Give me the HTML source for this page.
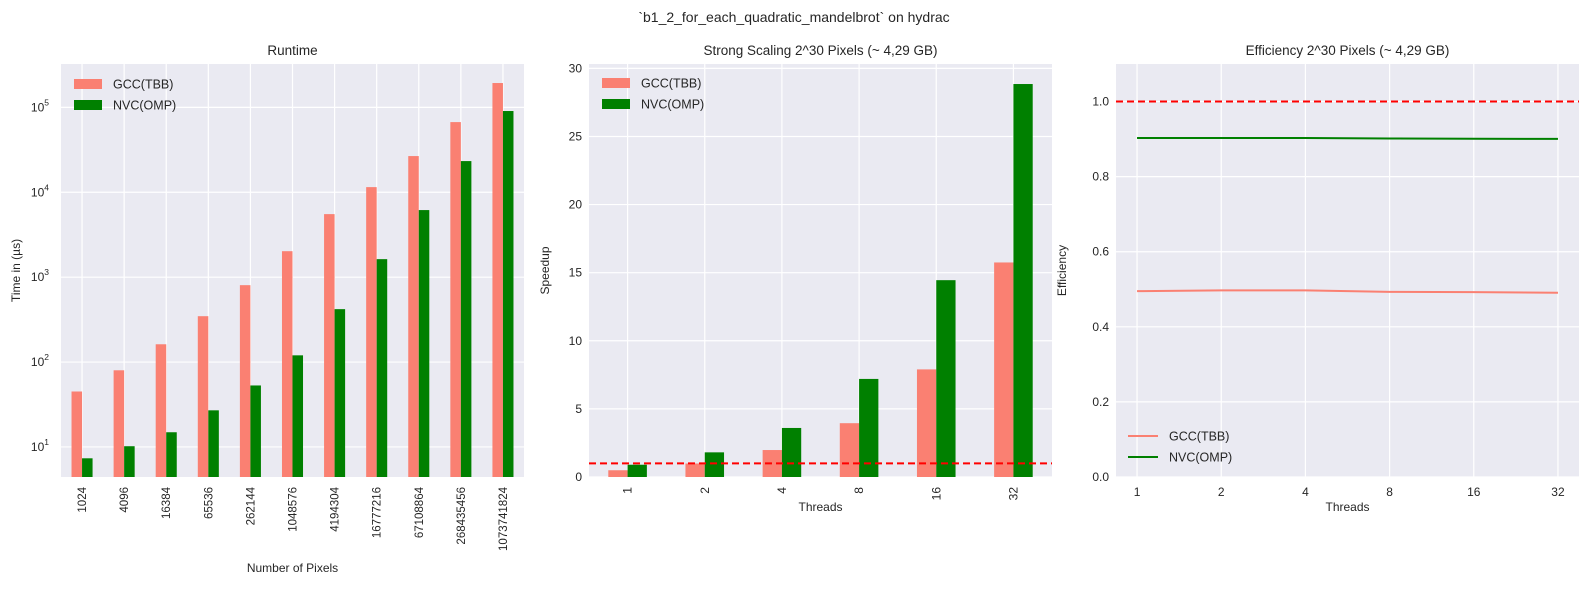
<!DOCTYPE html>
<html><head><meta charset="utf-8"><style>
body{margin:0;background:#fff;}
svg{display:block;font-family:"Liberation Sans",Arial,sans-serif;}
</style></head><body>
<svg id="fig" width="1589" height="593" viewBox="0 0 1589 593" xmlns="http://www.w3.org/2000/svg">
<text x="794" y="22" text-anchor="middle" font-size="14" fill="#262626">`b1_2_for_each_quadratic_mandelbrot` on hydrac</text>
</svg>
<script>
const pixelCats = ["1024","4096","16384","65536","262144","1048576","4194304","16777216","67108864","268435456","1073741824"];
const runtimeGcc = [45,80,162,347,805,2023,5530,11500,26700,67100,193600];
const runtimeNvc = [7.35,10.2,14.9,27,53,120,420,1630,6170,23300,90600];
const threadCats = ["1","2","4","8","16","32"];
const speedupGcc = [0.495,0.99,1.98,3.95,7.9,15.75];
const speedupNvc = [0.9,1.81,3.6,7.2,14.45,28.85];
const effGcc = [0.495,0.497,0.497,0.493,0.4925,0.4907];
const effNvc = [0.903,0.903,0.903,0.9015,0.901,0.9005];
const speedTicks = [0,5,10,15,20,25,30];
const effTicks = [0.0,0.2,0.4,0.6,0.8,1.0];
const logTicks = [1,2,3,4,5];

const NS="http://www.w3.org/2000/svg";
const svg=document.getElementById('fig');
function el(tag,attrs,parent){const e=document.createElementNS(NS,tag);for(const k in attrs)e.setAttribute(k,attrs[k]);(parent||svg).appendChild(e);return e;}
const TOP=64,BOT=477,W=463;
const SAL="#fa8072",GRN="#008000",TXT="#262626";

function panel(left,title){
  const g=el('g',{});
  
  
  const r=el('rect',{x:left,y:TOP,width:W,height:BOT-TOP,fill:'#eaeaf2'},g);
  
  
  const t=el('text',{x:left+W/2,y:55,'text-anchor':'middle','font-size':13.5,fill:TXT},g);
  t.textContent=title.text;
  
  
  return g;
}
function hgrid(g,left,y){const l=el('line',{x1:left,x2:left+W,y1:y,y2:y,stroke:'#fff','stroke-width':1.2},g);}
function vgrid(g,x){const l=el('line',{x1:x,x2:x,y1:TOP,y2:BOT,stroke:'#fff','stroke-width':1.2},g);}
function txt(g,x,y,s,attrs,name){const t=el('text',Object.assign({x:x,y:y,'font-size':11.5,fill:TXT},attrs||{}),g);t.textContent=s;return t;}
function legend(g,x,y,kind){
  const items=[["GCC(TBB)",SAL],["NVC(OMP)",GRN]];
  items.forEach((it,i)=>{
    const yy=y+i*21;
    let m;
    if(kind==='bar'){m=el('rect',{x:x,y:yy-5,width:28,height:10,fill:it[1]},g);}
    else{m=el('line',{x1:x,x2:x+30,y1:yy,y2:yy,stroke:it[1],'stroke-width':2},g);}
    
    
    txt(g,x+(kind==='bar'?39:41),yy+4.5,it[0],{'font-size':12.5},'legend-entry');
  });
}

// Panel 1: runtime (log)
(function(){
  const L=61,g=panel(L,{key:'runtime',text:'Runtime'});
  const lmin=0.646,lmax=5.511;
  const ys=v=>BOT-(Math.log10(v)-lmin)/(lmax-lmin)*(BOT-TOP);
  const step=W/pixelCats.length;
  const xs=i=>L+step*(i+0.5);
  logTicks.forEach(p=>{const y=ys(Math.pow(10,p));hgrid(g,L,y);
    const t=txt(g,L-12,y+4,'10',{'text-anchor':'end','font-size':12},'y-tick-label');
    const s=el('tspan',{dy:-6,'font-size':8.5},t);s.textContent=p;});
  pixelCats.forEach((c,i)=>{vgrid(g,xs(i));});
  const bw=step*0.25;
  pixelCats.forEach((c,i)=>{
    const b1=el('rect',{x:xs(i)-bw,y:ys(runtimeGcc[i]),width:bw,height:BOT-ys(runtimeGcc[i]),fill:SAL},g);
    
    const b2=el('rect',{x:xs(i),y:ys(runtimeNvc[i]),width:bw,height:BOT-ys(runtimeNvc[i]),fill:GRN},g);
    
    txt(g,0,0,c,{'text-anchor':'end',transform:`translate(${xs(i)+4},${487}) rotate(-90)`},'x-tick-label');
  });
  txt(g,L+W/2,572,'Number of Pixels',{'text-anchor':'middle','font-size':12},'x-axis-title');
  txt(g,0,0,'Time in (µs)',{'text-anchor':'middle','font-size':12,transform:`translate(20,${(TOP+BOT)/2}) rotate(-90)`},'y-axis-title');
  legend(g,74,84,'bar');
})();

// Panel 2: speedup
(function(){
  const L=589,g=panel(L,{key:'speedup',text:'Strong Scaling 2^30 Pixels (~ 4,29 GB)'});
  const ymax=30.32;
  const ys=v=>BOT-v/ymax*(BOT-TOP);
  const step=W/threadCats.length;
  const xs=i=>L+step*(i+0.5);
  speedTicks.forEach(v=>{const y=ys(v);hgrid(g,L,y);txt(g,L-7,y+4,String(v),{'text-anchor':'end','font-size':12},'y-tick-label');});
  threadCats.forEach((c,i)=>vgrid(g,xs(i)));
  const bw=step*0.25;
  threadCats.forEach((c,i)=>{
    const b1=el('rect',{x:xs(i)-bw,y:ys(speedupGcc[i]),width:bw,height:BOT-ys(speedupGcc[i]),fill:SAL},g);
    
    const b2=el('rect',{x:xs(i),y:ys(speedupNvc[i]),width:bw,height:BOT-ys(speedupNvc[i]),fill:GRN},g);
    
    txt(g,0,0,c,{'text-anchor':'end','font-size':12,transform:`translate(${xs(i)+4},${487}) rotate(-90)`},'x-tick-label');
  });
  const d=el('line',{x1:L,x2:L+W,y1:ys(1),y2:ys(1),stroke:'#ff0000','stroke-width':2,'stroke-dasharray':'7,4'},g);
  
  txt(g,L+W/2,511,'Threads',{'text-anchor':'middle','font-size':12},'x-axis-title');
  txt(g,0,0,'Speedup',{'text-anchor':'middle','font-size':12,transform:`translate(549,${(TOP+BOT)/2}) rotate(-90)`},'y-axis-title');
  legend(g,602,83,'bar');
})();

// Panel 3: efficiency
(function(){
  const L=1116,g=panel(L,{key:'efficiency',text:'Efficiency 2^30 Pixels (~ 4,29 GB)'});
  const ymax=1.1;
  const ys=v=>BOT-v/ymax*(BOT-TOP);
  const xs=i=>L+(i+0.25)*(W/5.5);
  effTicks.forEach(v=>{const y=ys(v);hgrid(g,L,y);txt(g,L-7,y+4,v.toFixed(1),{'text-anchor':'end','font-size':12},'y-tick-label');});
  threadCats.forEach((c,i)=>{vgrid(g,xs(i));txt(g,xs(i),496,c,{'text-anchor':'middle','font-size':12},'x-tick-label');});
  const d=el('line',{x1:L,x2:L+W,y1:ys(1),y2:ys(1),stroke:'#ff0000','stroke-width':2,'stroke-dasharray':'7,4'},g);
  
  [[effGcc,SAL,'line-gcc'],[effNvc,GRN,'line-nvc']].forEach(s=>{
    const p=el('polyline',{points:s[0].map((v,i)=>xs(i)+','+ys(v)).join(' '),fill:'none',stroke:s[1],'stroke-width':2},g);
    
  });
  txt(g,L+W/2,511,'Threads',{'text-anchor':'middle','font-size':12},'x-axis-title');
  txt(g,0,0,'Efficiency',{'text-anchor':'middle','font-size':12,transform:`translate(1066,${(TOP+BOT)/2}) rotate(-90)`},'y-axis-title');
  legend(g,1128,436,'line');
})();
</script>
</body></html>
